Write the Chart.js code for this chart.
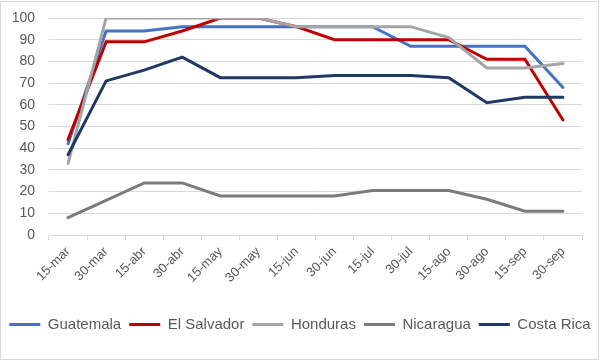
<!DOCTYPE html>
<html>
<head>
<meta charset="utf-8">
<script src="https://cdn.jsdelivr.net/npm/chart.js@4"></script>
<style>
  body { margin: 0; background: #fff; }
  #frame { position: absolute; left: 0; top: 1px; width: 599px; height: 359px; box-sizing: border-box; border: 1px solid #d9d9d9; }
  #chart { position: absolute; left: 0; top: 0; }
</style>
</head>
<body>
<div id="frame"></div>
<canvas id="chart" width="600" height="361"></canvas>
<script>
var fechas = ['15-mar','30-mar','15-abr','30-abr','15-may','30-may','15-jun','30-jun','15-jul','30-jul','15-ago','30-ago','15-sep','30-sep'];
var guatemala  = [42, 94, 94, 96, 96, 96, 96, 96, 96, 87, 87, 87, 87, 68];
var elSalvador = [44, 89, 89, 94, 100, 100, 96, 90, 90, 90, 90, 81, 81, 53];
var honduras   = [33, 100, 100, 100, 100, 100, 96, 96, 96, 96, 91, 77, 77, 79];
var nicaragua  = [8, 16, 24, 24, 18, 18, 18, 18, 20.5, 20.5, 20.5, 16.5, 11, 11];
var costaRica  = [37, 71, 76, 82, 72.5, 72.5, 72.5, 73.5, 73.5, 73.5, 72.5, 61, 63.5, 63.5];
var yTicks = [0, 10, 20, 30, 40, 50, 60, 70, 80, 90, 100];

var series = [
    { label: 'Guatemala', data: guatemala, color: '#4472C4' },
    { label: 'El Salvador', data: elSalvador, color: '#C00000' },
    { label: 'Honduras', data: honduras, color: '#A5A5A5' },
    { label: 'Nicaragua', data: nicaragua, color: '#7B7B7B' },
    { label: 'Costa Rica', data: costaRica, color: '#1F3864' }
];

var textColor = '#595959';
var gridColor = '#d9d9d9';
var fontFamily = 'Liberation Sans, Arial, sans-serif';

var chart = new Chart(document.getElementById('chart'), {
    type: 'line',
    data: {
        labels: fechas,
        datasets: series.map(function(s, i){
            return {
                label: s.label,
                data: s.data,
                borderColor: s.color,
                backgroundColor: s.color,
                borderWidth: 3,
                borderCapStyle: 'round',
                pointRadius: 0,
                tension: 0,
                fill: false,
                // later series drawn on top, like the original
                order: series.length - i
            };
        })
    },
    options: {
        responsive: false,
        devicePixelRatio: 1,
        animation: false,
        layout: { padding: { left: 0, right: 0, top: 18, bottom: 19 } },
        plugins: {
            tooltip: { enabled: false },
            legend: {
                position: 'bottom',
                labels: {
                    usePointStyle: true,
                    pointStyle: 'line',
                    pointStyleWidth: 31,
                    boxWidth: 31,
                    boxHeight: 15,
                    padding: 8,
                    color: textColor,
                    font: { family: fontFamily, size: 15 },
                    sort: function(a, b){ return a.datasetIndex - b.datasetIndex; }
                }
            }
        },
        scales: {
            x: {
                offset: true,
                grid: { display: true, drawOnChartArea: false, offset: true, tickLength: 5, color: gridColor },
                border: { display: true, color: gridColor },
                ticks: {
                    minRotation: 45,
                    maxRotation: 45,
                    autoSkip: false,
                    padding: 4,
                    color: textColor,
                    font: { family: fontFamily, size: 13 }
                },
                afterFit: function(scale){
                    scale.paddingLeft = 0;
                    scale.paddingRight = 0;
                    scale.height = 74;
                }
            },
            y: {
                min: 0,
                max: 100,
                afterBuildTicks: function(scale){
                    scale.ticks = yTicks.map(function(v){ return { value: v }; });
                },
                grid: { color: gridColor, drawTicks: false },
                border: { display: false },
                ticks: {
                    autoSkip: false,
                    padding: 14,
                    color: textColor,
                    font: { family: fontFamily, size: 14 }
                },
                afterFit: function(scale){
                    scale.width = 49;
                    scale.paddingTop = 0;
                    scale.paddingBottom = 0;
                }
            },
            // empty axis, only keeps the right margin of the plot
            spacer: {
                type: 'linear',
                position: 'right',
                grid: { display: false },
                border: { display: false },
                ticks: { display: false },
                afterFit: function(scale){
                    scale.width = 18;
                }
            }
        }
    }
});
</script>
</body>
</html>
